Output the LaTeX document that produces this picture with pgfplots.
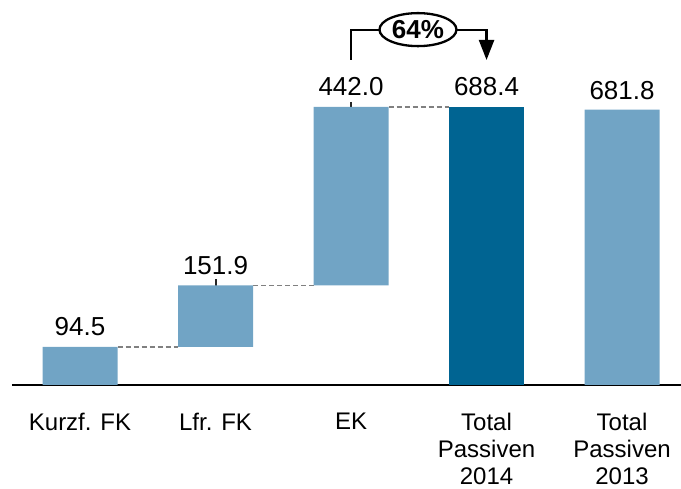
\documentclass[border=0pt]{standalone}
\usepackage{pgfplots}
\pgfplotsset{compat=1.18}
\usepackage{fontspec}
\setmainfont{Liberation Sans}
\usetikzlibrary{arrows.meta}
\definecolor{lightbar}{RGB}{113,164,197}
\definecolor{darkbar}{RGB}{0,100,146}
\definecolor{dashgray}{RGB}{128,128,128}
\begin{document}
\begin{tikzpicture}
\begin{axis}[
    at={(12pt,-385pt)}, anchor=south west,
    scale only axis, width=669pt, height=385pt,
    xmin=-0.502, xmax=4.435, ymin=0, ymax=953.35,
    enlargelimits=false, clip=false,
    ybar stacked, bar width=75pt,
    axis x line*=bottom, axis y line=none,
    x axis line style={line width=2pt, black},
    xtick={0,1,2,3,4}, major tick length=0pt,
    xticklabels={Kurzf. FK, Lfr. FK, EK, {Total\\Passiven\\2014}, {Total\\Passiven\\2013}},
    xticklabel style={align=center, anchor=north, inner sep=0pt, yshift=-28pt,
        text depth=0pt, font=\fontsize{24}{27}\selectfont},
    ]
    % invisible base of the waterfall
    \addplot[draw=none, fill=none] coordinates {(0,0) (1,94.5) (2,246.4) (3,0) (4,0)};
    \addplot[draw=none, fill=lightbar] coordinates {(0,94.5) (1,151.9) (2,442.0) (3,0) (4,681.8)};
    \addplot[draw=none, fill=darkbar] coordinates {(0,0) (1,0) (2,0) (3,688.4) (4,0)};

    % connectors
    \tikzset{conn/.style={dashgray, line width=1.5pt, dash pattern=on 5pt off 3pt}}
    \draw[conn] ([xshift=37.5pt]axis cs:0,94.5) -- ([xshift=-37.5pt]axis cs:1,94.5);
    \draw[conn] ([xshift=37.5pt]axis cs:1,246.4) -- ([xshift=-37.5pt]axis cs:2,246.4);
    \draw[conn] ([xshift=37.5pt]axis cs:2,688.4) -- ([xshift=-37.5pt]axis cs:3,688.4);

    % value labels
    \tikzset{vl/.style={anchor=base, yshift=11pt, inner sep=0pt, font=\fontsize{26}{29}\selectfont}}
    \node[vl] at (axis cs:0,94.5) {94.5};
    \node[vl] at (axis cs:1,246.4) {151.9};
    \node[vl] at (axis cs:2,688.4) {442.0};
    \node[vl] at (axis cs:3,688.4) {688.4};
    \node[vl, yshift=-1pt] at (axis cs:4,681.8) {681.8};
    \node[inner sep=0pt, text=white, font=\fontsize{26}{29}\selectfont] at (axis cs:3,358) {688.4};

    % small marker lines
    \draw[line width=2pt, black!85] ([yshift=6pt]axis cs:1,246.4) -- ([yshift=-16pt]axis cs:1,246.4);
    \draw[line width=2pt, black!85] ([yshift=5pt]axis cs:2,688.4) -- ([yshift=-15pt]axis cs:2,688.4);

    % anchor points for the growth bracket
    \coordinate (bl) at (axis cs:2,804.8);
    \coordinate (br) at (axis cs:3,804.8);
    \coordinate (btop) at (axis cs:3,879);
    \coordinate (bmid) at (axis cs:2.494,880);
\end{axis}
\draw[line width=2.3pt, -{Triangle[width=15pt,length=20pt]}] (bl) |- (btop) -- (br);
\draw[line width=2.3pt, fill=white] (bmid) ellipse [x radius=38.5pt, y radius=16.5pt];
\node[inner sep=0pt, font=\bfseries\fontsize{26}{29}\selectfont] at (bmid) {64\%};
\pgfresetboundingbox
\useasboundingbox (0,0) rectangle (681pt,-489pt);
\end{tikzpicture}
\end{document}
